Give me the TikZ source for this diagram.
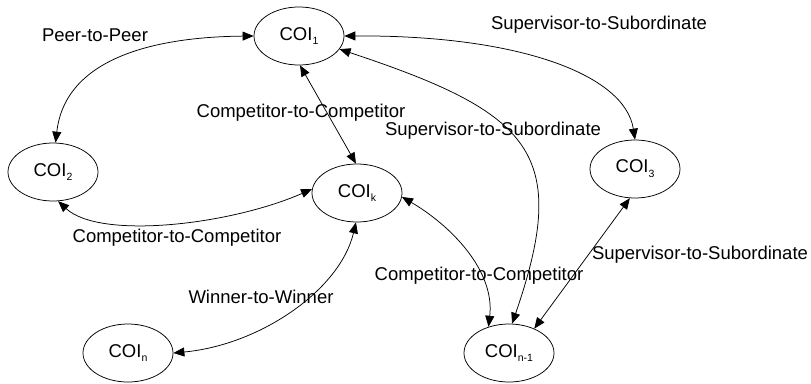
\documentclass[tikz,border=0pt]{standalone}
\usepackage{fontspec}
\setmainfont{Liberation Sans}
\usetikzlibrary{shapes.geometric,arrows.meta}
\newcommand{\mysub}[1]{\raisebox{-0.5ex}{\fontsize{10.5}{10.5}\selectfont #1}}
\begin{document}
\begin{tikzpicture}[x=1pt,y=-1pt,
  coi/.style={ellipse,draw,line width=0.75pt,minimum width=90pt,minimum height=58pt,inner sep=0pt,font=\fontsize{18.5}{22}\selectfont},
  lbl/.style={font=\fontsize{18.5}{22}\selectfont,inner sep=0pt},
  rel/.style={line width=0.75pt,{Triangle[length=11pt,width=9pt]}-{Triangle[length=11pt,width=9pt]}}]
\useasboundingbox (0,0) rectangle (811,383);
\node[coi] (c1) at (299,36) {COI\mysub{1}};
\node[coi] (c2) at (53,172) {COI\mysub{2}};
\node[coi] (ck) at (357,193) {COI\mysub{k}};
\node[coi] (c3) at (635,169) {COI\mysub{3}};
\node[coi] (cn) at (128,353) {COI\mysub{n}};
\node[coi] (cn1) at (509,353) {COI\mysub{n-1}};

\node[lbl] (l1) at (95,35) {Peer-to-Peer};
\node[lbl] (l2) at (599,25) {Supervisor-to-Subordinate};
\node[lbl] (l3) at (301,113) {Competitor-to-Competitor};
\node[lbl] (l4) at (493,131) {Supervisor-to-Subordinate};
\node[lbl] (l5) at (177,238) {Competitor-to-Competitor};
\node[lbl] (l6) at (261,297) {Winner-to-Winner};
\node[lbl] (l7) at (479,276) {Competitor-to-Competitor};
\node[lbl] (l8) at (700,255) {Supervisor-to-Subordinate};

\draw[rel] (c1.180) .. controls (150,37) and (65,60) .. (c2.85);
\draw[rel] (c1.-88) -- (ck.92);
\draw[rel] (c1.0) .. controls (520,35) and (625,75) .. (c3.90);
\draw[rel] (c1.-18) .. controls (532,113) and (571,153) .. (cn1.84);
\draw[rel] (c2.-80) .. controls (100,240) and (230,225) .. (ck.175);
\draw[rel] (ck.-92) .. controls (340,290) and (260,345) .. (cn.0);
\draw[rel] (ck.-5) .. controls (450,225) and (495,270) .. (cn1.128);
\draw[rel] (c3.-100) -- (cn1.44);
\end{tikzpicture}
\end{document}
